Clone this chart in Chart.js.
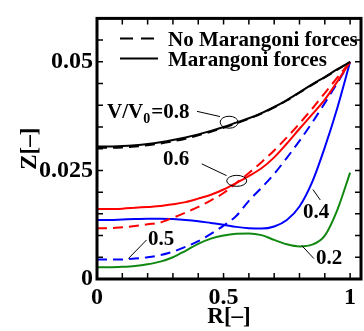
<!DOCTYPE html>
<html>
<head>
<meta charset="utf-8">
<script src="https://cdn.jsdelivr.net/npm/chart.js@4.4.0/dist/chart.umd.min.js"></script>
<style>
  html, body { margin: 0; padding: 0; background: #fff; }
</style>
</head>
<body>
<canvas id="chart" width="364" height="331"></canvas>
<script>
// radial position R[-]
const R = [0, 0.05, 0.1, 0.15, 0.2, 0.25, 0.3, 0.35, 0.4, 0.45, 0.5,
           0.55, 0.6, 0.65, 0.7, 0.75, 0.8, 0.85, 0.9, 0.95, 1];

// Z[-] profiles
const z08Marangoni = [0.0305, 0.0305, 0.0306, 0.0308, 0.0311, 0.0315, 0.0320, 0.0326, 0.0333, 0.0341, 0.0350,
                      0.0360, 0.0370, 0.0382, 0.0396, 0.0412, 0.0430, 0.0448, 0.0465, 0.0483, 0.0500];
const z08NoMarangoni = [0.0302, 0.0302, 0.0303, 0.0305, 0.0308, 0.0312, 0.0317, 0.0323, 0.0331, 0.0339, 0.0348,
                        0.0358, 0.0369, 0.0381, 0.0395, 0.0411, 0.0429, 0.0447, 0.0464, 0.0482, 0.0500];
const z06Marangoni = [0.0161, 0.0161, 0.0162, 0.0164, 0.0166, 0.0168, 0.0172, 0.0177, 0.0185, 0.0194, 0.0206,
                      0.0221, 0.0237, 0.0255, 0.0280, 0.0312, 0.0346, 0.0379, 0.0413, 0.0455, 0.0500];
const z06NoMarangoni = [0.0117, 0.0117, 0.0119, 0.0122, 0.0126, 0.0130, 0.0141, 0.0153, 0.0166, 0.0181, 0.0198,
                        0.0221, 0.0244, 0.0269, 0.0296, 0.0326, 0.0358, 0.0392, 0.0428, 0.0464, 0.0500];
const z04Marangoni = [0.0136, 0.0136, 0.0137, 0.0138, 0.0139, 0.0139, 0.0138, 0.0136, 0.0133, 0.0129, 0.0125,
                      0.0120, 0.0117, 0.0116, 0.0121, 0.0136, 0.0167, 0.0223, 0.0303, 0.0395, 0.0500];
const z05NoMarangoni = [0.0045, 0.0045, 0.0045, 0.0047, 0.0050, 0.0055, 0.0063, 0.0074, 0.0087, 0.0104, 0.0123,
                        0.0145, 0.0180, 0.0210, 0.0242, 0.0279, 0.0318, 0.0360, 0.0405, 0.0452, 0.0500];
const z02Marangoni = [0.0027, 0.0027, 0.0028, 0.0030, 0.0034, 0.0040, 0.0050, 0.0065, 0.0081, 0.0093, 0.0100,
                      0.0104, 0.0105, 0.0101, 0.0090, 0.0080, 0.0075, 0.0079, 0.0100, 0.0160, 0.0245];

// tick labels
const xTickValues = [0, 0.5, 1];
const xTickLabels = ['0', '0.5', '1'];
const yTickValues = [0, 0.025, 0.05];
const yTickLabels = ['0', '0.025', '0.05'];

const legendLabels = ['No Marangoni forces', 'Marangoni forces'];

const FONT = '"Liberation Serif", "Times New Roman", serif';

function pts(ys) { return R.map((r, i) => ({x: r, y: ys[i]})); }

function series(ys, color, dashed) {
  return {
    data: pts(ys),
    borderColor: color,
    borderWidth: 2,
    borderDash: dashed ? [10, 6] : [],
    pointRadius: 0,
    showLine: true,
    fill: false,
    cubicInterpolationMode: 'monotone'
  };
}

function labelFor(values, labels) {
  return function(v) {
    const i = values.findIndex(t => Math.abs(t - v) < 1e-9);
    return i >= 0 ? labels[i] : '';
  };
}

// annotation placement in data coordinates
const notes = [
  {text: '0.6', at: [0.261, 0.0262], line: [[0.414, 0.0265], [0.512, 0.0238]], ring: [0.552, 0.0226, 10, 5.5]},
  {text: '0.5', at: [0.201, 0.0079], line: [[0.196, 0.0090], [0.124, 0.0047]]},
  {text: '0.4', at: [0.814, 0.0140], line: [[0.853, 0.0206], [0.882, 0.0182]]},
  {text: '0.2', at: [0.865, 0.0034], line: [[0.809, 0.0077], [0.857, 0.0047]]}
];
const mainNote = {at: [0.040, 0.0370], line: [[0.395, 0.0386], [0.486, 0.0374]], ring: [0.522, 0.0361, 9, 6]};

const framePlugin = {
  id: 'frame',
  afterDatasetsDraw(chart) {
    const {ctx, chartArea: a, scales: {x, y}} = chart;
    ctx.save();
    ctx.strokeStyle = '#000';
    // inward ticks
    ctx.lineWidth = 1.5;
    ctx.beginPath();
    x.ticks.forEach(t => {
      const px = x.getPixelForValue(t.value);
      if (px <= a.left + 1 || px >= a.right - 1) return;
      ctx.moveTo(px, a.bottom); ctx.lineTo(px, a.bottom - 6);
      ctx.moveTo(px, a.top); ctx.lineTo(px, a.top + 6);
    });
    y.ticks.forEach(t => {
      const py = y.getPixelForValue(t.value);
      if (py <= a.top + 1 || py >= a.bottom - 1) return;
      ctx.moveTo(a.left, py); ctx.lineTo(a.left + 6, py);
      ctx.moveTo(a.right, py); ctx.lineTo(a.right - 6, py);
    });
    ctx.stroke();
    ctx.lineWidth = 3;
    ctx.strokeRect(a.left, a.top, a.right - a.left, a.bottom - a.top);

    // legend
    ctx.lineWidth = 2;
    ctx.font = 'bold 21px ' + FONT;
    ctx.fillStyle = '#000';
    ctx.textBaseline = 'alphabetic';
    ctx.textAlign = 'left';
    legendLabels.forEach((lab, i) => {
      const ly = a.top + 20 + i * 20;
      ctx.setLineDash(i === 0 ? [13, 8] : []);
      ctx.beginPath();
      ctx.moveTo(a.left + 23, ly); ctx.lineTo(a.left + 61, ly);
      ctx.stroke();
      ctx.fillText(lab, a.left + 71, ly + 8);
    });
    ctx.setLineDash([]);

    // annotations
    const P = (p) => [x.getPixelForValue(p[0]), y.getPixelForValue(p[1])];
    ctx.lineWidth = 1;
    const drawLeader = (n) => {
      const [p0, p1] = [P(n.line[0]), P(n.line[1])];
      ctx.beginPath(); ctx.moveTo(p0[0], p0[1]); ctx.lineTo(p1[0], p1[1]); ctx.stroke();
      if (n.ring) {
        const c = P(n.ring);
        ctx.beginPath(); ctx.ellipse(c[0], c[1], n.ring[2], n.ring[3], 0, 0, Math.PI * 2); ctx.stroke();
      }
    };
    notes.forEach(n => {
      const p = P(n.at);
      ctx.fillText(n.text, p[0], p[1]);
      drawLeader(n);
    });
    // V/V0=0.8 with subscript
    let [tx, ty] = P(mainNote.at);
    ctx.fillText('V/V', tx, ty);
    tx += ctx.measureText('V/V').width;
    ctx.font = 'bold 14px ' + FONT;
    ctx.fillText('0', tx, ty + 5);
    tx += ctx.measureText('0').width + 1;
    ctx.font = 'bold 21px ' + FONT;
    ctx.fillText('=0.8', tx, ty);
    drawLeader(mainNote);
    ctx.restore();
  }
};

new Chart(document.getElementById('chart'), {
  type: 'scatter',
  data: {
    datasets: [
      series(z08NoMarangoni, '#000000', true),
      series(z08Marangoni, '#000000', false),
      series(z06NoMarangoni, '#ff0000', true),
      series(z06Marangoni, '#ff0000', false),
      series(z05NoMarangoni, '#0000ff', true),
      series(z04Marangoni, '#0000ff', false),
      series(z02Marangoni, '#118811', false)
    ]
  },
  options: {
    responsive: false,
    animation: false,
    layout: {padding: {top: 13, right: 3, left: 0, bottom: 0}},
    plugins: {legend: {display: false}, tooltip: {enabled: false}},
    scales: {
      x: {
        type: 'linear',
        min: 0, max: 1.043,
        grid: {display: false, drawTicks: false},
        border: {display: false},
        ticks: {stepSize: 0.1, includeBounds: false, autoSkip: false, maxRotation: 0, padding: 4, color: '#000',
                font: {family: FONT, size: 24, weight: 'bold'},
                callback: labelFor(xTickValues, xTickLabels)},
        title: {display: true, text: 'R[–]', color: '#000', padding: {top: 0, bottom: 0},
                font: {family: FONT, size: 23, weight: 'bold'}},
        afterFit(s) { s.height = 52; }
      },
      y: {
        min: 0, max: 0.06,
        grid: {display: false, drawTicks: false},
        border: {display: false},
        ticks: {stepSize: 0.005, autoSkip: false, padding: 4, color: '#000',
                font: {family: FONT, size: 24, weight: 'bold'},
                callback: labelFor(yTickValues, yTickLabels)},
        title: {display: true, text: 'Z[–]', color: '#000', padding: {top: 16, bottom: 0},
                font: {family: FONT, size: 23, weight: 'bold'}},
        afterFit(s) { s.width = 97; }
      }
    }
  },
  plugins: [framePlugin]
});
</script>
</body>
</html>
